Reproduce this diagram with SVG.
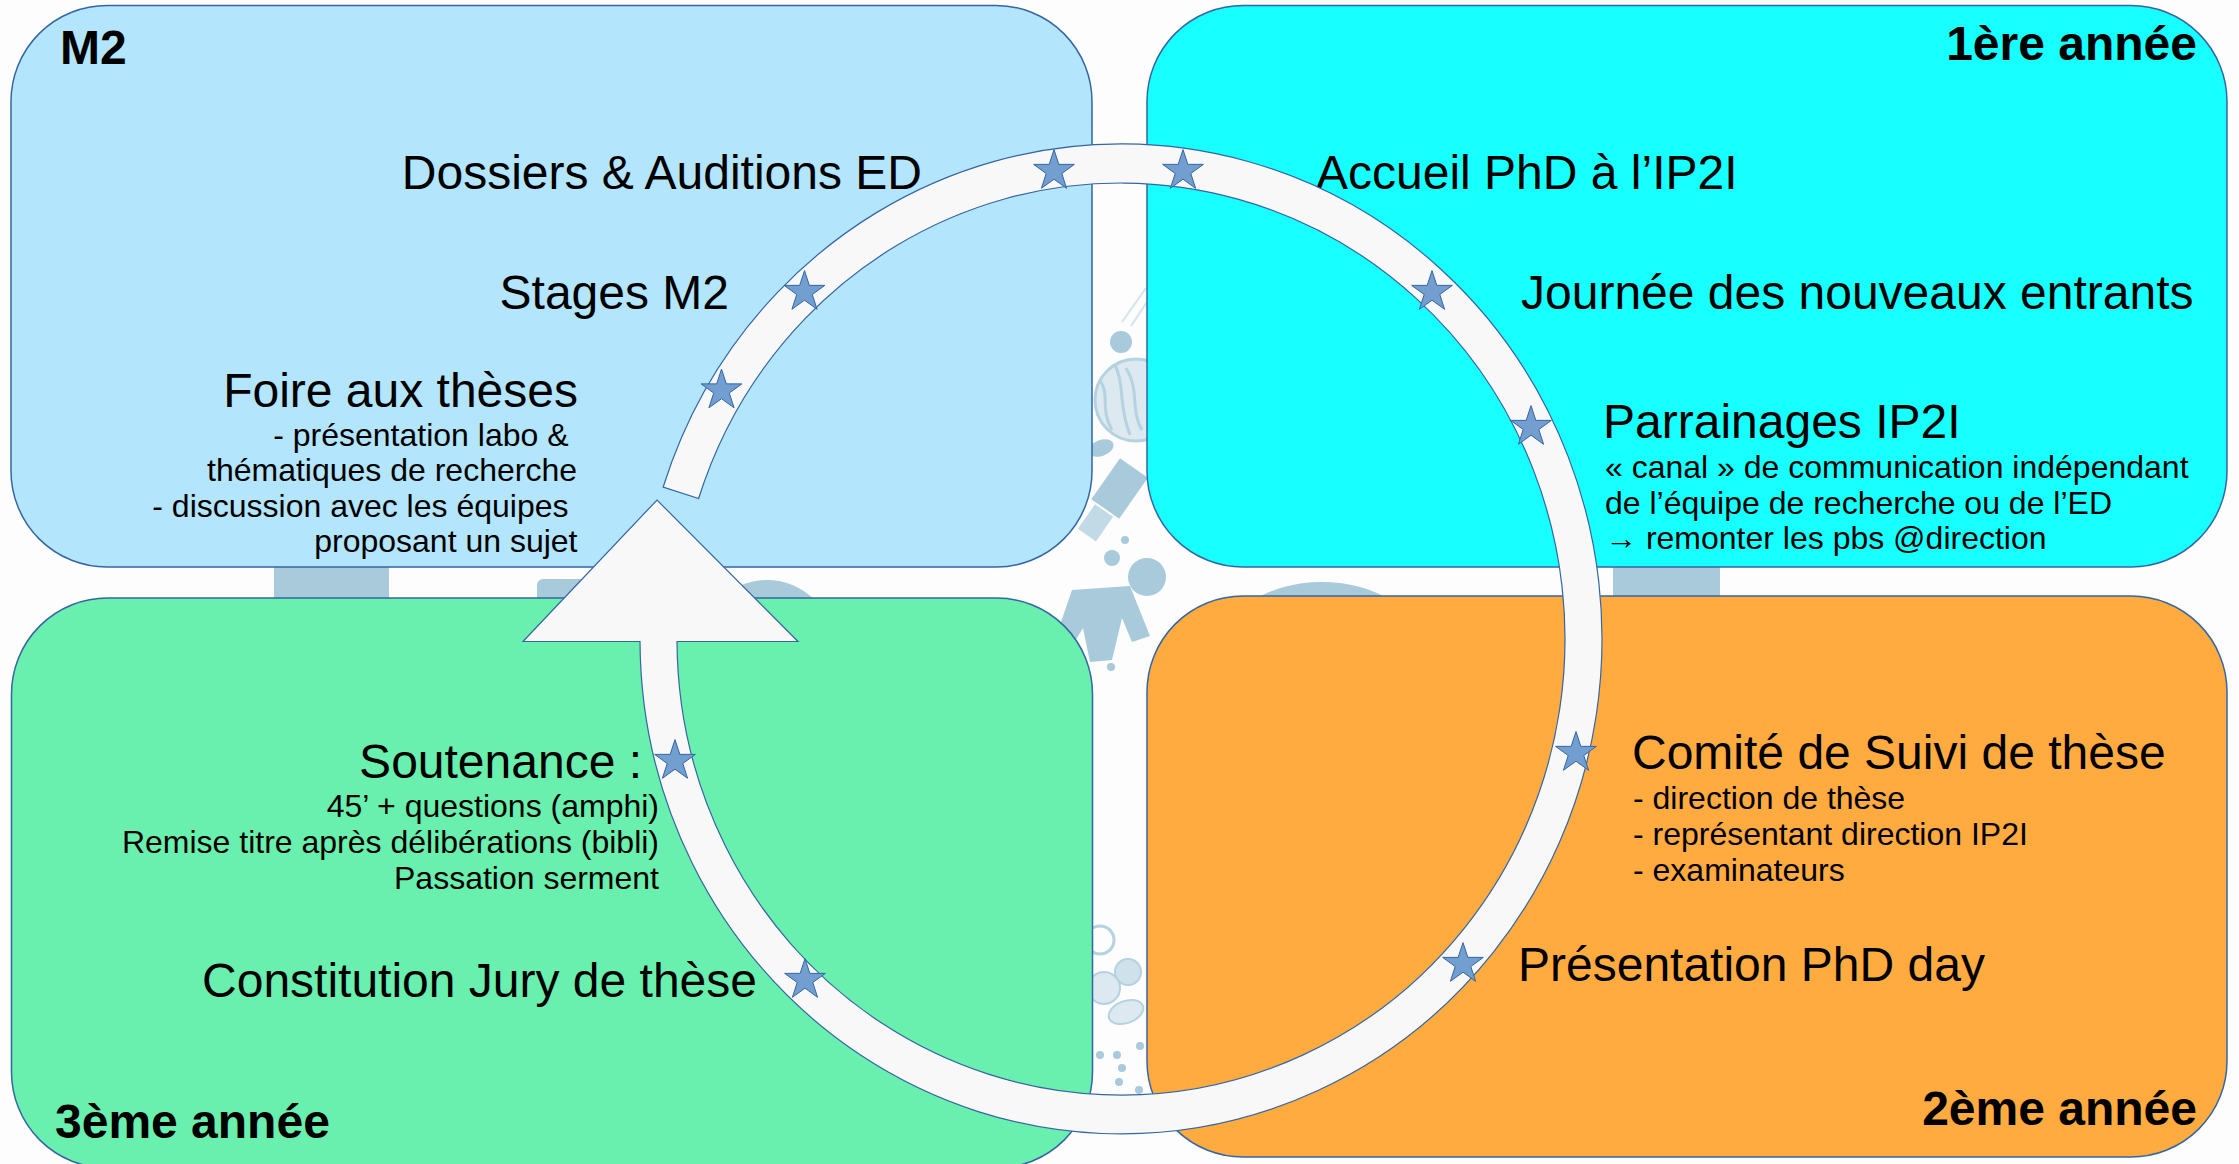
<svg xmlns="http://www.w3.org/2000/svg" xmlns:xlink="http://www.w3.org/1999/xlink" width="2239" height="1164" viewBox="0 0 2239 1164">
  <style>
    .box { stroke: #3465a4; stroke-width: 1.5; }
    .head { font-family: "Liberation Sans", Arial, sans-serif; font-weight: bold; font-size: 48px; fill: #000; }
    .big { font-family: "Liberation Sans", Arial, sans-serif; font-size: 48px; fill: #000; }
    .small { font-family: "Liberation Sans", Arial, sans-serif; font-size: 32px; fill: #000; }
    .end { text-anchor: end; }
    .deco { fill: #a8cadb; }
    .deco-line { fill: none; stroke: #b5d2e0; stroke-width: 3; }
  </style>
  <defs>
    <!-- five-pointed milestone star, centred on its origin -->
    <polygon id="star" points="0,-21.4 4.82,-6.63 20.35,-6.61 7.8,2.53 12.58,17.31 0,8.2 -12.58,17.31 -7.8,2.53 -20.35,-6.61 -4.82,-6.63" fill="#729fcf" stroke="#3465a4" stroke-width="1"/>
  </defs>

  <!-- page background with the faint watermark artwork -->
  <rect x="0" y="0" width="2239" height="1164" fill="#fdfdfd"/>
  <g id="backdrop">
    <rect class="deco" x="274" y="555" width="115" height="60"/>
    <rect class="deco" x="537" y="579" width="122" height="40" rx="6"/>
    <ellipse class="deco" cx="767" cy="650" rx="68" ry="70"/>
    <ellipse class="deco" cx="1322" cy="652" rx="102" ry="70"/>
    <rect class="deco" x="1613" y="555" width="107" height="60"/>
    <!-- space / science motifs between the panels -->
    <line x1="1122" y1="322" x2="1146" y2="288" stroke="#d3e4ed" stroke-width="2"/>
    <line x1="1131" y1="326" x2="1147" y2="302" stroke="#d3e4ed" stroke-width="2"/>
    <circle class="deco" cx="1121" cy="342" r="11"/>
    <circle cx="1136" cy="400" r="41" fill="#dce9f0" stroke="#b5d2e0" stroke-width="3"/>
    <path class="deco-line" d="M1100,380 C1110,395 1100,410 1112,430 M1115,365 C1125,385 1118,405 1130,435 M1126,368 C1140,390 1130,410 1142,430"/>
    <ellipse class="deco" cx="1101" cy="448" rx="13" ry="8" transform="rotate(-20 1101 448)"/>
    <g transform="rotate(35 1115 495)">
      <rect class="deco" x="1098" y="462" width="34" height="50"/>
      <rect class="deco" x="1104" y="514" width="22" height="30" opacity="0.7"/>
    </g>
    <circle class="deco" cx="1125" cy="540" r="4"/>
    <circle class="deco" cx="1112" cy="558" r="8"/>
    <circle class="deco" cx="1147" cy="577" r="19"/>
    <path class="deco" d="M1072,590 L1130,586 L1150,636 L1132,642 L1122,618 L1112,660 L1090,662 L1083,628 L1066,656 L1052,648 Z"/>
    <circle class="deco" cx="1111" cy="667" r="4"/>
    <circle cx="1100" cy="940" r="14" fill="none" stroke="#b5d2e0" stroke-width="3"/>
    <circle cx="1128" cy="972" r="13" fill="#cfe1ea" stroke="#b5d2e0" stroke-width="2"/>
    <circle cx="1104" cy="988" r="16" fill="#dce9f0" stroke="#b5d2e0" stroke-width="2"/>
    <ellipse cx="1126" cy="1012" rx="18" ry="11" fill="#dce9f0" stroke="#b5d2e0" stroke-width="2" transform="rotate(-20 1126 1012)"/>
    <circle class="deco" cx="1100" cy="1055" r="4"/>
    <circle class="deco" cx="1117" cy="1055" r="4"/>
    <circle class="deco" cx="1122" cy="1068" r="4"/>
    <circle class="deco" cx="1140" cy="1046" r="4"/>
    <circle class="deco" cx="1119" cy="1082" r="4"/>
    <circle class="deco" cx="1139" cy="1090" r="4"/>
  </g>

  <!-- M2 panel -->
  <g id="m2">
    <rect class="box" x="11" y="5.5" width="1081" height="561.5" rx="96" ry="96" fill="#b3e5fc"/>
    <text class="head" x="60" y="64">M2</text>
    <text class="big end" x="922" y="189">Dossiers &amp; Auditions ED</text>
    <text class="big end" x="729" y="309">Stages M2</text>
    <text class="big end" x="578" y="407">Foire aux thèses</text>
    <text class="small end" x="568.5" y="445.5">- présentation labo &amp;</text>
    <text class="small end" x="577" y="481">thématiques de recherche</text>
    <text class="small end" x="568.5" y="516.5">- discussion avec les équipes</text>
    <text class="small end" x="577.5" y="552">proposant un sujet</text>
  </g>

  <!-- first-year panel -->
  <g id="annee1">
    <rect class="box" x="1147" y="5.5" width="1080" height="561.5" rx="96" ry="96" fill="#18ffff"/>
    <text class="head end" x="2197" y="60">1ère année</text>
    <text class="big" x="1316" y="189">Accueil PhD à l’IP2I</text>
    <text class="big" x="1521" y="309">Journée des nouveaux entrants</text>
    <text class="big" x="1603" y="438">Parrainages IP2I</text>
    <text class="small" x="1605" y="478">« canal » de communication indépendant</text>
    <text class="small" x="1605" y="513.5">de l’équipe de recherche ou de l’ED</text>
    <text class="small" x="1605" y="549">→ remonter les pbs @direction</text>
  </g>

  <!-- third-year panel -->
  <g id="annee3">
    <rect class="box" x="11.5" y="598" width="1081" height="570" rx="96" ry="96" fill="#69f0ae"/>
    <text class="head" x="55" y="1138">3ème année</text>
    <text class="big end" x="642" y="778">Soutenance :</text>
    <text class="small end" x="659" y="817">45’ + questions (amphi)</text>
    <text class="small end" x="659" y="853">Remise titre après délibérations (bibli)</text>
    <text class="small end" x="659" y="889">Passation serment</text>
    <text class="big end" x="757" y="997">Constitution Jury de thèse</text>
  </g>

  <!-- second-year panel -->
  <g id="annee2">
    <rect class="box" x="1147" y="596" width="1080" height="561" rx="96" ry="96" fill="#ffab40"/>
    <text class="head end" x="2197" y="1125">2ème année</text>
    <text class="big" x="1632" y="769">Comité de Suivi de thèse</text>
    <text class="small" x="1633" y="809">- direction de thèse</text>
    <text class="small" x="1633" y="845">- représentant direction IP2I</text>
    <text class="small" x="1633" y="880.5">- examinateurs</text>
    <text class="big" x="1518" y="981">Présentation PhD day</text>
  </g>

  <!-- cycle arrow running through the four panels, with its milestones -->
  <g id="connectors">
    <path d="M798,641.5 L657,500 L523,641.5 L640,641.5 A481,495 0 1 0 663.2,487 L698.6,498.5 A444,456 0 1 1 677,641.5 Z" fill="#f8f8f8" stroke="#3465a4" stroke-width="1.2" stroke-linejoin="miter"/>
    <use xlink:href="#star" x="1054" y="171"/>
    <use xlink:href="#star" x="1183" y="171"/>
    <use xlink:href="#star" x="804.5" y="292"/>
    <use xlink:href="#star" x="721.5" y="390.5"/>
    <use xlink:href="#star" x="1432" y="292"/>
    <use xlink:href="#star" x="1531" y="427"/>
    <use xlink:href="#star" x="1576" y="753"/>
    <use xlink:href="#star" x="1463" y="964"/>
    <use xlink:href="#star" x="675" y="761"/>
    <use xlink:href="#star" x="805" y="980"/>
  </g>
</svg>
